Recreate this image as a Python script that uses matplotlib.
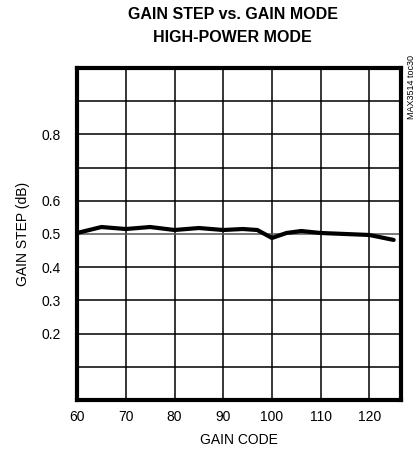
import matplotlib
matplotlib.use("Agg")
import matplotlib.pyplot as plt

plt.rcParams['font.family'] = ['Liberation Sans Narrow', 'Liberation Sans', 'DejaVu Sans']

# Gain step measured vs gain code (high-power mode)
gain_code = [60, 65, 70, 75, 80, 85, 90, 94, 97, 100, 103, 106, 110, 115, 120, 125]
gain_step = [0.503, 0.521, 0.515, 0.521, 0.512, 0.518, 0.512, 0.515, 0.512,
             0.488, 0.503, 0.509, 0.503, 0.500, 0.497, 0.482]

x_ticks = [60, 70, 80, 90, 100, 110, 120]
y_grid = [0.1, 0.2, 0.3, 0.4, 0.5, 0.6, 0.7, 0.8, 0.9]
y_labeled = [0.2, 0.3, 0.4, 0.5, 0.6, 0.8]
y_labels = ['0.2', '0.3', '0.4', '0.5', '0.6', '0.8']

fig = plt.figure(figsize=(4.19, 4.57), dpi=100)
ax = fig.add_axes([0.184, 0.125, 0.773, 0.726])

ax.plot(gain_code, gain_step, color='black', linewidth=3, solid_capstyle='round')

ax.set_xlim(60, 126.5)
ax.set_ylim(0, 1.0)

for xv in x_ticks[1:]:
    ax.axvline(xv, color='black', linewidth=1.1, zorder=0)
for yv in y_grid:
    ax.axhline(yv, color='#555555' if yv == 0.5 else 'black', linewidth=1.1, zorder=0)

ax.set_xticks(x_ticks)
ax.set_xticklabels([str(v) for v in x_ticks], fontsize=10)
ax.set_yticks(y_labeled)
ax.set_yticklabels(y_labels, fontsize=10)
ax.tick_params(axis='y', length=0, pad=12)
ax.tick_params(axis='x', length=0, pad=7)

for s in ax.spines.values():
    s.set_linewidth(3)

ax.set_xlabel('GAIN CODE', fontsize=10, labelpad=7)
ax.set_ylabel('GAIN STEP (dB)', fontsize=10, labelpad=8)

fig.text(0.555, 0.968, 'GAIN STEP vs. GAIN MODE', ha='center', va='center',
         fontsize=11.5, fontweight='bold')
fig.text(0.555, 0.918, 'HIGH-POWER MODE', ha='center', va='center',
         fontsize=11.5, fontweight='bold')
fig.text(0.981, 0.81, 'MAX3514 toc30', rotation=90, ha='center', va='center',
         fontsize=6.5)

fig.savefig('out.png', dpi=100)
plt.close(fig)
